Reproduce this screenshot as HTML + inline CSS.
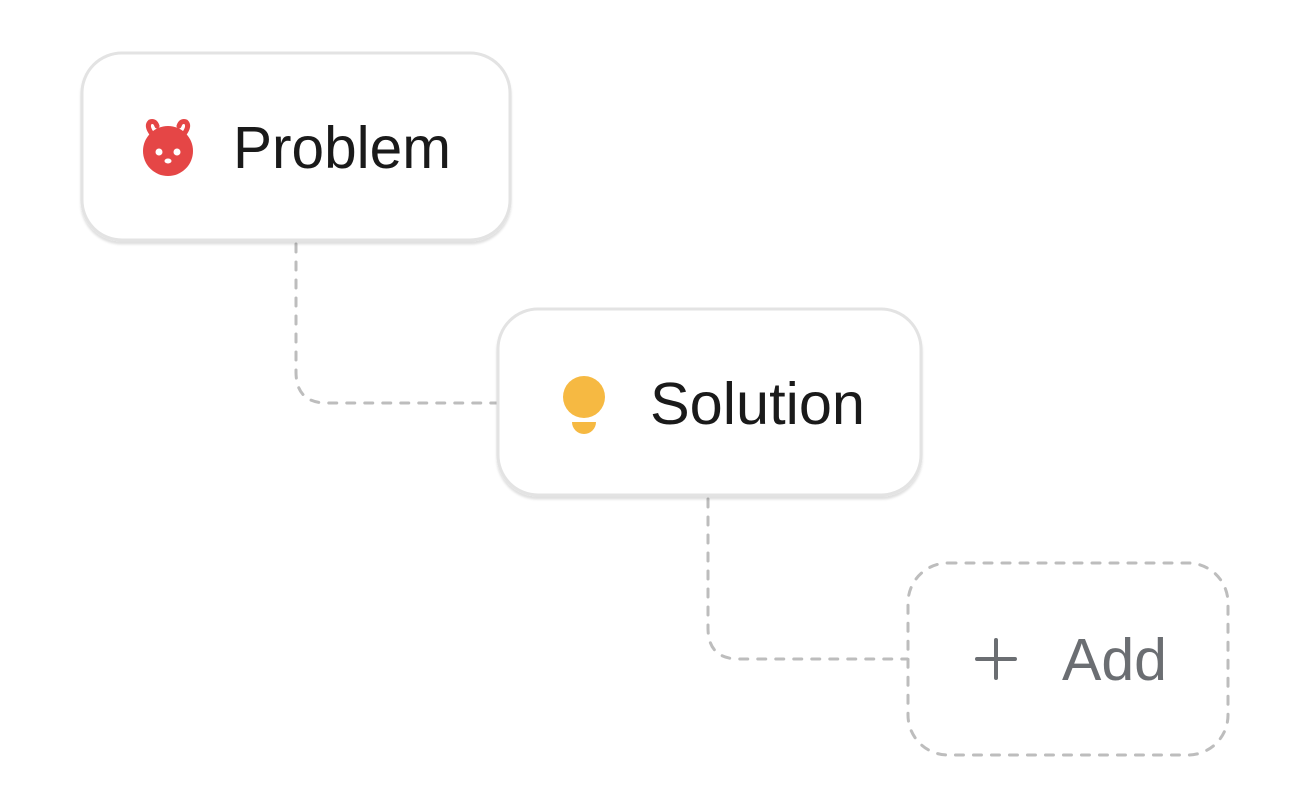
<!DOCTYPE html>
<html><head><meta charset="utf-8"><style>
html,body{margin:0;padding:0;background:#fff;width:1304px;height:801px;overflow:hidden}
svg{display:block}
text{font-family:"Liberation Sans",Arial,sans-serif;font-size:59px}
</style></head><body>
<svg width="1304" height="801" viewBox="0 0 1304 801">
<defs>
<filter id="sh" x="-10%" y="-10%" width="120%" height="130%">
<feDropShadow dx="0" dy="3" stdDeviation="1" flood-color="#000" flood-opacity="0.12"/>
</filter>
</defs>
<path d="M296 244 V372 Q296 403 327 403 H497" fill="none" stroke="#bdbdbd" stroke-width="3" stroke-dasharray="8 10" stroke-linecap="round"/>
<path d="M708 499 V628 Q708 659 739 659 H908" fill="none" stroke="#bdbdbd" stroke-width="3" stroke-dasharray="8 10" stroke-linecap="round"/>
<rect x="82" y="53" width="428" height="187" rx="40" fill="#fff" stroke="#e3e3e3" stroke-width="3" filter="url(#sh)"/>
<circle cx="168" cy="151" r="25" fill="#e54646"/>
<path d="M152 134 Q146 126 150 122 Q155 120 157 126" stroke="#e54646" stroke-width="5" fill="none" stroke-linecap="round"/>
<path d="M184 134 Q190 126 186 122 Q181 120 179 126" stroke="#e54646" stroke-width="5" fill="none" stroke-linecap="round"/>
<circle cx="159" cy="152" r="3.5" fill="#fff"/>
<circle cx="177" cy="152" r="3.5" fill="#fff"/>
<ellipse cx="168" cy="161" rx="3.5" ry="2.5" fill="#fff"/>
<text x="233" y="168" fill="#1a1a1a" textLength="218" lengthAdjust="spacingAndGlyphs">Problem</text>
<rect x="498" y="309" width="423" height="186" rx="40" fill="#fff" stroke="#e3e3e3" stroke-width="3" filter="url(#sh)"/>
<circle cx="584" cy="397" r="21" fill="#f6b942"/>
<path d="M572 422 H596 A12 12 0 0 1 572 422 Z" fill="#f6b942"/>
<text x="650" y="424" fill="#1a1a1a" textLength="215" lengthAdjust="spacingAndGlyphs">Solution</text>
<rect x="908" y="563" width="320" height="192" rx="40" fill="#fff" stroke="#bdbdbd" stroke-width="3" stroke-dasharray="8 10" stroke-linecap="round"/>
<path d="M977 659 H1015 M996 640 V678" stroke="#6b6e72" stroke-width="4" stroke-linecap="round"/>
<text x="1062" y="680" fill="#6b6e72" textLength="105" lengthAdjust="spacingAndGlyphs">Add</text>
</svg>
</body></html>
